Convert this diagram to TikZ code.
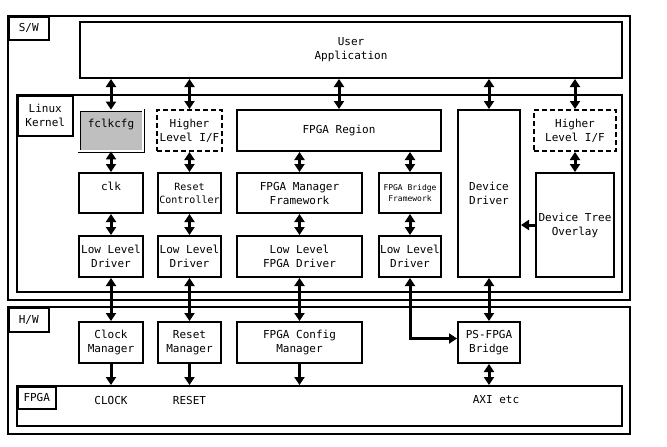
\documentclass[tikz,border=0pt]{standalone}
\usepackage{fontspec}
\setmainfont{DejaVu Sans Mono}
\usetikzlibrary{arrows.meta}

\begin{document}
\begin{tikzpicture}[x=1pt, y=-1pt,
    blk/.style={draw, line width=2pt, inner sep=0pt, align=center, font=\fontsize{11}{14}\selectfont},
    area/.style={draw, line width=2pt, inner sep=0pt},
    tag/.style={draw, line width=1.5pt, anchor=north west, inner sep=0pt, align=center, font=\fontsize{11}{14}\selectfont},
    hli/.style={blk, dash pattern=on 5pt off 3pt},
    txt/.style={inner sep=0pt, font=\fontsize{11}{14}\selectfont},
    dbl/.style={line width=3pt, {Triangle[length=8pt,width=10pt]}-{Triangle[length=8pt,width=10pt]}},
    one/.style={line width=3pt, -{Triangle[length=8pt,width=10pt]}},
]
    \useasboundingbox (0,0) rectangle (667,447);
    % software side
    \node[area, minimum width=622pt, minimum height=284pt] (sw) at (319,158) {};
    \node[tag, minimum width=40pt, minimum height=23pt] (swtag) at (8,16) {S/W};
    \node[blk, minimum width=542pt, minimum height=56pt] (app) at (351,50) {User\\Application};
    \node[area, minimum width=605pt, minimum height=197pt] (kernel) at (319.5,193.5) {};
    \node[tag, minimum width=55pt, minimum height=40pt] (kerneltag) at (17,95) {Linux\\Kernel};
    \node[blk, fill=gray!50, double, double distance=1.4pt, line width=0.8pt, minimum width=64pt, minimum height=41pt] (fclk) at (111,130.5) {fclkcfg\\\mbox{}};
    \node[hli, minimum width=65pt, minimum height=41pt] (hli1) at (189.5,130.5) {Higher\\Level I/F};
    \node[blk, minimum width=204pt, minimum height=41pt] (region) at (339,130.5) {FPGA Region};
    \node[blk, minimum width=62pt, minimum height=167pt] (ddrv) at (489,193.5) {Device\\Driver};
    \node[hli, minimum width=82pt, minimum height=41pt] (hli2) at (575,130.5) {Higher\\Level I/F};
    \node[blk, minimum width=64pt, minimum height=40pt] (clk) at (111,193) {clk\\\mbox{}};
    \node[blk, minimum width=63pt, minimum height=40pt, font=\fontsize{10}{13}\selectfont] (rstc) at (189.5,193) {Reset\\Controller};
    \node[blk, minimum width=125pt, minimum height=40pt] (fmgr) at (299.5,193) {FPGA Manager\\Framework};
    \node[blk, minimum width=62pt, minimum height=40pt, font=\fontsize{8}{11}\selectfont] (fbr) at (410,193) {FPGA Bridge\\Framework};
    \node[blk, minimum width=78pt, minimum height=104pt] (dto) at (575,225) {Device Tree\\Overlay};
    \node[blk, minimum width=64pt, minimum height=41pt] (lld1) at (111,256.5) {Low Level\\Driver};
    \node[blk, minimum width=63pt, minimum height=41pt] (lld2) at (189.5,256.5) {Low Level\\Driver};
    \node[blk, minimum width=125pt, minimum height=41pt] (llfd) at (299.5,256.5) {Low Level\\FPGA Driver};
    \node[blk, minimum width=62pt, minimum height=41pt] (lld4) at (410,256.5) {Low Level\\Driver};
    % hardware side
    \node[area, minimum width=622pt, minimum height=127pt] (hw) at (319,370.5) {};
    \node[tag, minimum width=40pt, minimum height=24pt] (hwtag) at (8,307) {H/W};
    \node[blk, minimum width=64pt, minimum height=41pt] (clkm) at (111,342.5) {Clock\\Manager};
    \node[blk, minimum width=63pt, minimum height=41pt] (rstm) at (189.5,342.5) {Reset\\Manager};
    \node[blk, minimum width=125pt, minimum height=41pt] (cfgm) at (299.5,342.5) {FPGA Config\\Manager};
    \node[blk, minimum width=62pt, minimum height=41pt] (psb) at (489,342.5) {PS-FPGA\\Bridge};
    \node[area, minimum width=605pt, minimum height=40pt] (fpga) at (319.5,406) {};
    \node[tag, minimum width=38pt, minimum height=22pt] (fpgatag) at (17,386) {FPGA};
    \node[txt] (clock) at (111,400) {CLOCK};
    \node[txt] (reset) at (189.5,400) {RESET};
    \node[txt] (axi) at (496,400) {AXI etc};
    % connectors
    \draw[dbl] (app.south -| fclk.north) -- (fclk.north);
    \draw[dbl] (app.south -| hli1.north) -- (hli1.north);
    \draw[dbl] (app.south -| region.north) -- (region.north);
    \draw[dbl] (app.south -| ddrv.north) -- (ddrv.north);
    \draw[dbl] (app.south -| hli2.north) -- (hli2.north);
    \draw[dbl] (fclk) -- (clk);
    \draw[dbl] (clk) -- (lld1);
    \draw[dbl] (hli1) -- (rstc);
    \draw[dbl] (rstc) -- (lld2);
    \draw[dbl] (region.south -| fmgr.north) -- (fmgr.north);
    \draw[dbl] (region.south -| fbr.north) -- (fbr.north);
    \draw[dbl] (fmgr) -- (llfd);
    \draw[dbl] (fbr) -- (lld4);
    \draw[dbl] (hli2) -- (dto);
    \draw[one] (dto.west) -- (dto.west -| ddrv.east);
    \draw[dbl] (lld1) -- (clkm);
    \draw[dbl] (lld2) -- (rstm);
    \draw[dbl] (llfd) -- (cfgm);
    \draw[dbl] (ddrv) -- (psb);
    \draw[dbl] (lld4.south) |- ([yshift=4pt]psb.west);
    \draw[one] (clkm.south) -- (clkm.south |- fpga.north);
    \draw[one] (rstm.south) -- (rstm.south |- fpga.north);
    \draw[one] (cfgm.south) -- (cfgm.south |- fpga.north);
    \draw[dbl] (psb.south) -- (psb.south |- fpga.north);
\end{tikzpicture}
\end{document}
